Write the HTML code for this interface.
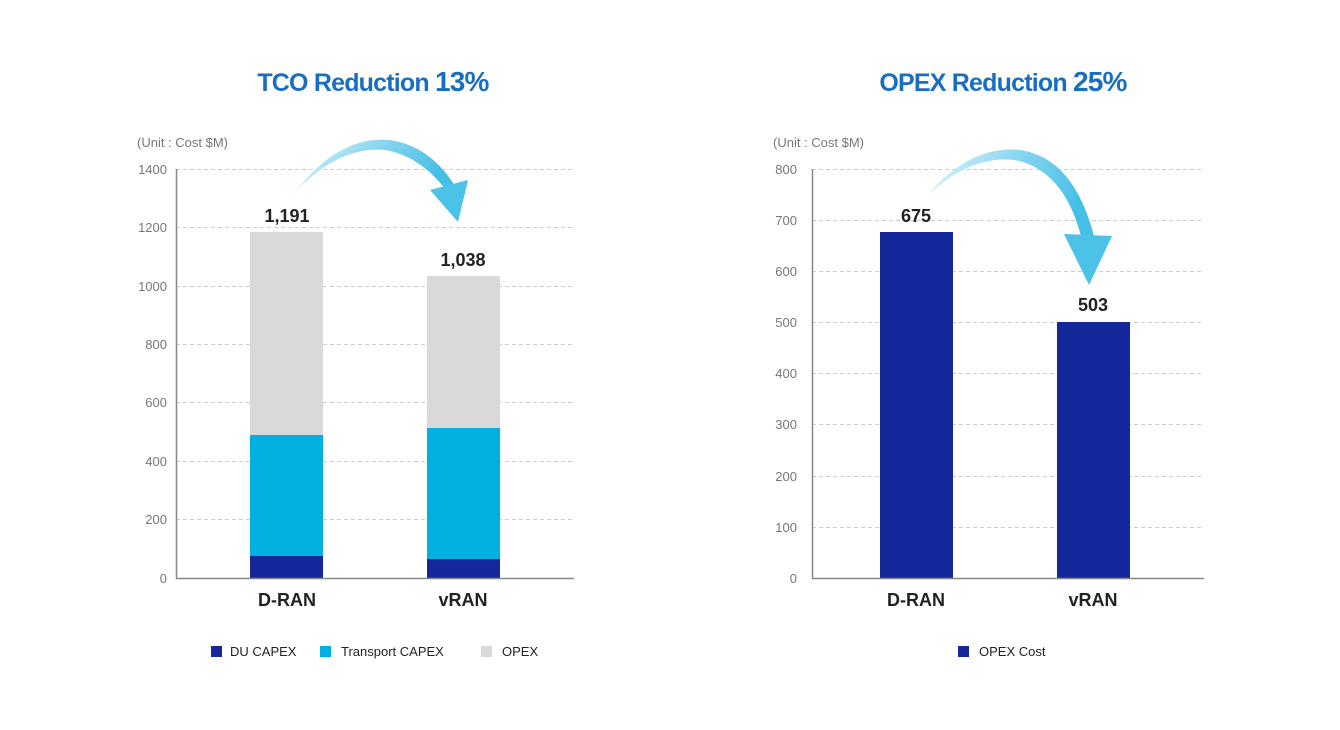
<!DOCTYPE html>
<html><head><meta charset="utf-8"><style>
body{margin:0;background:#fff;}
svg{display:block;font-family:"Liberation Sans",sans-serif;}
</style></head><body>
<svg width="1340" height="730" viewBox="0 0 1340 730">
<defs>
<linearGradient id="g1" x1="0" y1="0" x2="1" y2="0.3">
<stop offset="0" stop-color="#e4f5fb"/><stop offset="0.5" stop-color="#8ad6f0"/><stop offset="1" stop-color="#45bfe6"/></linearGradient>
</defs>
<!-- Titles -->
<text x="373" y="91" text-anchor="middle" font-size="25" font-weight="bold" fill="#1a6ec0" letter-spacing="-0.8">TCO Reduction <tspan font-size="28">13%</tspan></text>
<text x="1003" y="91" text-anchor="middle" font-size="25" font-weight="bold" fill="#1a6ec0" letter-spacing="-0.8">OPEX Reduction <tspan font-size="28">25%</tspan></text>
<text x="137" y="147" font-size="13" fill="#777">(Unit : Cost $M)</text>
<text x="773" y="147" font-size="13" fill="#777">(Unit : Cost $M)</text>

<!-- Left grid -->
<g stroke="#ccc" stroke-dasharray="4,3" stroke-width="1">
<line x1="176" x2="574" y1="169.5" y2="169.5"/><line x1="176" x2="574" y1="227.5" y2="227.5"/>
<line x1="176" x2="574" y1="286.5" y2="286.5"/><line x1="176" x2="574" y1="344.5" y2="344.5"/>
<line x1="176" x2="574" y1="402.5" y2="402.5"/><line x1="176" x2="574" y1="461.5" y2="461.5"/>
<line x1="176" x2="574" y1="519.5" y2="519.5"/>
</g>
<g font-size="13" fill="#777" text-anchor="end">
<text x="167" y="174">1400</text><text x="167" y="232">1200</text><text x="167" y="291">1000</text>
<text x="167" y="349">800</text><text x="167" y="407">600</text><text x="167" y="466">400</text>
<text x="167" y="524">200</text><text x="167" y="583">0</text>
</g>
<rect x="250" y="232" width="73" height="203" fill="#d9d9d9"/>
<rect x="250" y="435" width="73" height="121" fill="#00b0e0"/>
<rect x="250" y="556" width="73" height="22" fill="#14279b"/>
<rect x="427" y="276" width="73" height="152" fill="#d9d9d9"/>
<rect x="427" y="428" width="73" height="131" fill="#00b0e0"/>
<rect x="427" y="559" width="73" height="19" fill="#14279b"/>
<line x1="176.5" y1="169" x2="176.5" y2="579" stroke="#888" stroke-width="1.5"/>
<line x1="176" y1="578.5" x2="574" y2="578.5" stroke="#888" stroke-width="1.5"/>
<g font-size="18" font-weight="bold" fill="#222" text-anchor="middle">
<text x="287" y="222">1,191</text><text x="463" y="266">1,038</text>
<text x="287" y="606">D-RAN</text><text x="463" y="606">vRAN</text>
</g>
<!-- arrow left -->
<path d="M297,190 Q340,135 390,140 Q430,146 455,186 L446,190 Q420,156 385,150 Q340,146 297,190 Z" fill="url(#g1)"/>
<path d="M430,190 L468,180 L458,222 Z" fill="#4cc2e8"/>

<!-- Left legend -->
<rect x="211" y="646" width="11" height="11" fill="#14279b"/>
<text x="230" y="656" font-size="13" fill="#222">DU CAPEX</text>
<rect x="320" y="646" width="11" height="11" fill="#00b0e0"/>
<text x="341" y="656" font-size="13" fill="#222">Transport CAPEX</text>
<rect x="481" y="646" width="11" height="11" fill="#d9d9d9"/>
<text x="502" y="656" font-size="13" fill="#222">OPEX</text>

<!-- Right grid -->
<g stroke="#ccc" stroke-dasharray="4,3" stroke-width="1">
<line x1="812" x2="1204" y1="169.5" y2="169.5"/><line x1="812" x2="1204" y1="220.5" y2="220.5"/>
<line x1="812" x2="1204" y1="271.5" y2="271.5"/><line x1="812" x2="1204" y1="322.5" y2="322.5"/>
<line x1="812" x2="1204" y1="373.5" y2="373.5"/><line x1="812" x2="1204" y1="424.5" y2="424.5"/>
<line x1="812" x2="1204" y1="476.5" y2="476.5"/><line x1="812" x2="1204" y1="527.5" y2="527.5"/>
</g>
<g font-size="13" fill="#777" text-anchor="end">
<text x="797" y="174">800</text><text x="797" y="225">700</text><text x="797" y="276">600</text>
<text x="797" y="327">500</text><text x="797" y="378">400</text><text x="797" y="429">300</text>
<text x="797" y="481">200</text><text x="797" y="532">100</text><text x="797" y="583">0</text>
</g>
<rect x="880" y="232" width="73" height="346" fill="#14279b"/>
<rect x="1057" y="322" width="73" height="256" fill="#14279b"/>
<line x1="812.5" y1="169" x2="812.5" y2="579" stroke="#888" stroke-width="1.5"/>
<line x1="812" y1="578.5" x2="1204" y2="578.5" stroke="#888" stroke-width="1.5"/>
<g font-size="18" font-weight="bold" fill="#222" text-anchor="middle">
<text x="916" y="222">675</text><text x="1093" y="311">503</text>
<text x="916" y="606">D-RAN</text><text x="1093" y="606">vRAN</text>
</g>
<!-- arrow right -->
<path d="M928,195 Q970,145 1020,150 Q1075,158 1095,240 L1082,240 Q1065,170 1015,160 Q970,155 928,195 Z" fill="url(#g1)"/>
<path d="M1064,234 L1112,236 L1089,285 Z" fill="#4cc2e8"/>

<rect x="958" y="646" width="11" height="11" fill="#14279b"/>
<text x="979" y="656" font-size="13" fill="#222">OPEX Cost</text>
</svg>
</body></html>
